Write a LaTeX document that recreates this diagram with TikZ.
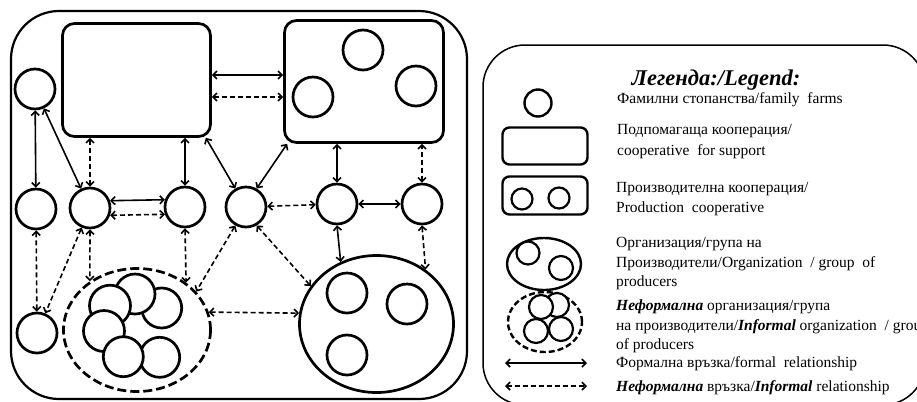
\documentclass[tikz,border=0pt]{standalone}
\usepackage{fontspec}
\setmainfont{Liberation Serif}
\usetikzlibrary{arrows.meta,shapes.geometric}
\tikzset{
	farm/.style={circle, draw, line width=2.7bp, minimum size=40bp, inner sep=0pt, fill=white},
	coop/.style={rectangle, draw, rounded corners=12bp, line width=2.7bp, inner sep=0pt},
	group/.style={ellipse, draw, line width=2.7bp, inner sep=0pt},
	formal/.style={line width=1.6bp, {Straight Barb[length=4bp,width=8bp]}-{Straight Barb[length=4bp,width=8bp]}},
	informal/.style={formal, dash pattern=on 5bp off 3bp},
	legtext/.style={anchor=base west, inner sep=0pt, font=\fontsize{15.5bp}{20bp}\selectfont}
}
\newcommand{\bi}[1]{\textbf{\textit{#1}}}

\begin{document}
\begin{tikzpicture}[x=1bp, y=-1bp]
			%%%%% START %%%%%
			\useasboundingbox (0,0) rectangle (917,401);
			\clip (0,0) rectangle (917,401);
			
			\draw[line width=2.2bp, rounded corners=48bp] (11,11) rectangle (467,399);
			
			\node[coop, minimum width=148bp, minimum height=113bp] (support) at (136.5,80) {};
			\node[coop, minimum width=159bp, minimum height=122bp] (prodcoop) at (364,81.5) {};
			\node[farm] (pc1) at (363,50) {};
			\node[farm] (pc2) at (313,97) {};
			\node[farm] (pc3) at (416,86) {};
			
			\node[farm] (farmTL) at (35,89) {};
			\node[farm] (farmL) at (36,209) {};
			\node[farm] (farmC) at (90,208) {};
			\node[farm] (farmD) at (185,207) {};
			\node[farm] (farmE) at (246,207) {};
			\node[farm] (farmF) at (337,204) {};
			\node[farm] (farmG) at (422,204) {};
			\node[farm] (farmBL) at (37,333) {};
			
			\node[group, dash pattern=on 9bp off 4bp, minimum width=147bp, minimum height=123bp] (infgroup) at (137,330) {};
			\draw[line width=2.7bp, fill=white] (161.7,308) circle (20);
			\draw[line width=2.7bp, fill=white] (135,294) circle (20);
			\draw[line width=2.7bp, fill=white] (110,305.7) circle (20.5);
			\draw[line width=2.7bp, fill=white] (104,331) circle (20.5);
			\draw[line width=2.7bp, fill=white] (159.7,357.3) circle (20);
			\draw[line width=2.7bp, fill=white] (123.3,356.7) circle (20);
			
			\node[group, minimum width=154bp, minimum height=137bp] (orggroup) at (376.5,324) {};
			\node[farm] (og1) at (347,293) {};
			\node[farm] (og2) at (407,304) {};
			\node[farm] (og3) at (347,355) {};
			
			% relationships
			\draw[formal] ([yshift=5bp]support.east) -- ([yshift=5bp]support.east -| prodcoop.west);
			\draw[informal] ([yshift=-17bp]support.east) -- ([yshift=-17bp]support.east -| prodcoop.west);
			\draw[formal] (farmTL) -- (farmL);
			\draw[formal] (farmTL) -- (farmC);
			\draw[informal] (farmC.north) -- (farmC.north |- support.south);
			\draw[formal] (farmD.north) -- (farmD.north |- support.south);
			\draw[formal] (farmE.120) -- ([xshift=-6bp]support.south east);
			\draw[formal] (farmE.60) -- ([xshift=4bp]prodcoop.south west);
			\draw[formal] (farmF.north) -- (farmF.north |- prodcoop.south);
			\draw[informal] (farmG.north) -- (farmG.north |- prodcoop.south);
			\draw[formal] (farmC.20) -- (farmD.160);
			\draw[informal] (farmC.-20) -- (farmD.-160);
			\draw[informal] (farmE) -- (farmF);
			\draw[formal] (farmF) -- (farmG);
			\draw[informal] (farmL) -- (farmBL);
			\draw[informal] (farmC) -- (farmBL);
			\draw[informal] (farmC.south) -- (infgroup.134);
			\draw[informal] (farmD.south) -- (infgroup.44);
			\draw[informal] (farmE.240) -- (infgroup.33);
			\draw[informal] (farmE.-60) -- (orggroup.150);
			\draw[informal] (infgroup.14) -- (orggroup.172);
			\draw[formal] (farmF.south) -- (orggroup.120);
			\draw[informal] (farmG.south) -- (orggroup.48);
			
			% legend
			\draw[line width=1.5bp, rounded corners=42bp] (483,45) rectangle (925,405);
			\node[anchor=base, inner sep=0pt, font=\fontsize{22.5bp}{22.5bp}\selectfont\bfseries\itshape] (legtitle) at (716,85) {Легенда:/Legend:};
			
			\node[farm, minimum size=27bp, line width=2.4bp] (legfarm) at (538,103) {};
			\node[coop, minimum width=85bp, minimum height=37bp, rounded corners=7bp, line width=2.4bp] (legsupport) at (545,146) {};
			\node[coop, minimum width=85bp, minimum height=38bp, rounded corners=7bp, line width=2.4bp] (legprod) at (545,195.5) {};
			\draw[line width=2.2bp] (522,199) circle (10.5);
			\draw[line width=2.2bp] (559,198) circle (10.5);
			\node[group, minimum width=74bp, minimum height=52bp, line width=2.4bp] (legorg) at (544,264) {};
			\draw[line width=2.2bp] (528,253) circle (11.5);
			\draw[line width=2.2bp] (561,268) circle (12);
			\node[group, dash pattern=on 6bp off 3bp, minimum width=74bp, minimum height=60bp, line width=2.4bp] (leginf) at (545,322) {};
			\draw[line width=2.2bp, fill=white] (557,305) circle (12);
			\draw[line width=2.2bp, fill=white] (541,307) circle (12);
			\draw[line width=2.2bp, fill=white] (536,331) circle (12);
			\draw[line width=2.2bp, fill=white] (561,329) circle (12);
			\coordinate (legf1) at (505,363);
			\coordinate (legf2) at (587,363);
			\draw[formal] (legf1) -- (legf2);
			\coordinate (legi1) at (505,386);
			\coordinate (legi2) at (587,386);
			\draw[informal] (legi1) -- (legi2);
			
			\node[legtext] (txfarm) at (617,103) {Фамилни стопанства/family\ \ farms};
			\node[legtext] (txsup1) at (617,134) {Подпомагаща кооперация/};
			\node[legtext] (txsup2) at (617,155) {cooperative\ \ for support};
			\node[legtext] (txprod1) at (616,192) {Производителна кооперация/};
			\node[legtext] (txprod2) at (616,212) {Production\ \ cooperative};
			\node[legtext] (txorg1) at (616,247) {Организация/група на};
			\node[legtext] (txorg2) at (616,267) {Производители/Organization\ \ / group\ \ of};
			\node[legtext] (txorg3) at (616,286) {producers};
			\node[legtext] (txinf1) at (616,310) {\bi{Неформална} организация/група};
			\node[legtext] (txinf2) at (616,330) {на производители/\bi{Informal} organization\ \ / group};
			\node[legtext] (txinf3) at (616,349) {of producers};
			\node[legtext] (txformal) at (616,367) {Формална връзка/formal\ \ relationship};
			\node[legtext] (txinformal) at (616,391) {\bi{Неформална} връзка/\bi{Informal} relationship};
			%%%%% END %%%%%
\end{tikzpicture}
\end{document}
